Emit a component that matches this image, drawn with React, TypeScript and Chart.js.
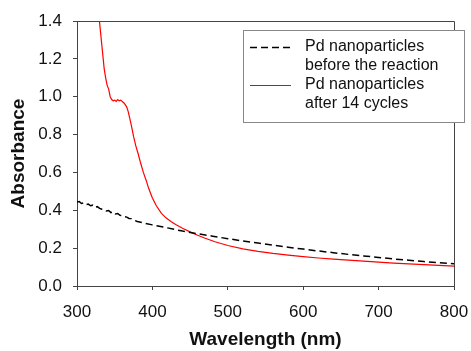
import React, { useEffect, useRef } from "react";
import { Chart, registerables } from "chart.js";

Chart.register(...registerables);

// Series 1: Pd nanoparticles before the reaction (black dashed)
const beforeWavelengths = [300, 303, 306, 309, 312, 315, 318, 321, 324, 327, 330, 333, 336, 339, 342, 345, 348, 351, 354, 357, 360, 363, 366, 369, 372, 375, 380, 390, 400, 420, 440, 460, 480, 500, 520, 540, 560, 580, 600, 620, 640, 660, 680, 700, 720, 740, 760, 780, 800];
const beforeAbsorbance = [0.443, 0.446, 0.436, 0.439, 0.43, 0.433, 0.424, 0.427, 0.416, 0.419, 0.41, 0.406, 0.404, 0.396, 0.399, 0.388, 0.392, 0.381, 0.383, 0.373, 0.372, 0.366, 0.364, 0.357, 0.356, 0.349, 0.341, 0.331, 0.323, 0.307, 0.29, 0.276, 0.263, 0.25, 0.238, 0.227, 0.216, 0.205, 0.195, 0.185, 0.176, 0.167, 0.159, 0.151, 0.143, 0.136, 0.129, 0.123, 0.117];

// Series 2: Pd nanoparticles after 14 cycles (red solid)
const afterWavelengths = [326, 330, 333, 336, 338, 340, 342, 344, 346, 348, 350, 352, 354, 356, 358, 360, 362, 364, 366, 368, 370, 372, 375, 378, 381, 384, 388, 392, 395, 400, 405, 412, 418, 425, 432, 440, 450, 460, 470, 483, 500, 520, 540, 560, 580, 600, 620, 640, 660, 680, 700, 720, 740, 760, 780, 800];
const afterAbsorbance = [1.55, 1.39, 1.27, 1.15, 1.1, 1.06, 1.04, 1.0, 0.985, 0.978, 0.982, 0.975, 0.985, 0.978, 0.982, 0.975, 0.968, 0.958, 0.945, 0.92, 0.885, 0.85, 0.79, 0.74, 0.7, 0.655, 0.6, 0.555, 0.516, 0.465, 0.425, 0.384, 0.36, 0.34, 0.322, 0.305, 0.286, 0.268, 0.252, 0.234, 0.214, 0.196, 0.183, 0.172, 0.163, 0.155, 0.148, 0.142, 0.137, 0.131, 0.126, 0.121, 0.117, 0.113, 0.109, 0.105];

const seriesLabels = [
  ["Pd nanoparticles", "before the reaction"],
  ["Pd nanoparticles", "after 14 cycles"],
];
const xTicks = [300, 400, 500, 600, 700, 800];
const yTicks = [0, 0.2, 0.4, 0.6, 0.8, 1.0, 1.2, 1.4];

const FONT = "'Liberation Sans', Arial, sans-serif";
const AXIS_COLOR = "#444";

const framePlugin = {
  id: "frame",
  afterDraw(chart: any) {
    const { ctx, chartArea } = chart;
    ctx.save();
    ctx.strokeStyle = AXIS_COLOR;
    ctx.lineWidth = 1;
    ctx.beginPath();
    ctx.moveTo(Math.round(chartArea.left) + 0.5, Math.round(chartArea.top) + 0.5);
    ctx.lineTo(Math.round(chartArea.right) + 0.5, Math.round(chartArea.top) + 0.5);
    ctx.lineTo(Math.round(chartArea.right) + 0.5, Math.round(chartArea.bottom) + 0.5);
    ctx.stroke();
    ctx.restore();
  },
};

const legendPlugin = {
  id: "customLegend",
  afterDraw(chart: any) {
    const { ctx } = chart;
    const bx = 243.5, by = 30.5, bw = 221, bh = 92;
    ctx.save();
    ctx.fillStyle = "#fff";
    ctx.fillRect(bx, by, bw, bh);
    ctx.strokeStyle = "#888";
    ctx.lineWidth = 1;
    ctx.strokeRect(bx, by, bw, bh);
    const rows = [47, 85];
    chart.data.datasets.forEach((ds: any, i: number) => {
      const y = rows[i];
      ctx.strokeStyle = ds.borderColor;
      ctx.lineWidth = ds.borderWidth;
      ctx.setLineDash(ds.borderDash || []);
      ctx.beginPath();
      ctx.moveTo(250, y + 0.5);
      ctx.lineTo(291, y + 0.5);
      ctx.stroke();
      ctx.setLineDash([]);
      ctx.fillStyle = "#111";
      ctx.font = `16px ${FONT}`;
      ctx.textBaseline = "middle";
      ctx.textAlign = "left";
      seriesLabels[i].forEach((t, j) => {
        ctx.fillText(t, 305, y + j * 18.5);
      });
    });
    ctx.restore();
  },
};

export default function App() {
  const ref = useRef<HTMLCanvasElement | null>(null);

  useEffect(() => {
    document.body.style.margin = "0";
    const canvas = ref.current!;
    const chart = new Chart(canvas, {
      type: "line",
      data: {
        datasets: [
          {
            label: seriesLabels[0].join(" "),
            data: beforeWavelengths.map((x, i) => ({ x, y: beforeAbsorbance[i] })),
            borderColor: "#000",
            borderWidth: 1.5,
            borderDash: [7, 4],
            pointRadius: 0,
            tension: 0,
            fill: false,
          },
          {
            label: seriesLabels[1].join(" "),
            data: afterWavelengths.map((x, i) => ({ x, y: afterAbsorbance[i] })),
            borderColor: "#ff0000",
            borderWidth: 1.2,
            pointRadius: 0,
            tension: 0,
            fill: false,
          },
        ],
      },
      options: {
        animation: false,
        responsive: false,
        maintainAspectRatio: false,
        layout: { padding: { left: 0, right: 17, top: 21, bottom: 0 } },
        plugins: {
          legend: { display: false },
          tooltip: { enabled: false },
        },
        scales: {
          x: {
            type: "linear",
            min: 300,
            max: 800,
            afterFit: (s: any) => { s.height = 65; s.paddingLeft = 0; s.paddingRight = 0; },
            afterBuildTicks: (s: any) => { s.ticks = xTicks.map((v) => ({ value: v })); },
            ticks: {
              color: "#111",
              font: { family: FONT, size: 17 },
              padding: 12,
              callback: (v: any) => String(v),
            },
            grid: { display: true, drawOnChartArea: false, drawTicks: true, tickLength: 4, color: AXIS_COLOR },
            border: { display: true, color: AXIS_COLOR },
            title: {
              display: true,
              text: "Wavelength (nm)",
              color: "#111",
              font: { family: FONT, size: 19, weight: "bold" },
              padding: { top: 0, bottom: 0 },
            },
          },
          y: {
            type: "linear",
            min: 0,
            max: 1.4,
            afterFit: (s: any) => { s.width = 77; s.paddingTop = 0; s.paddingBottom = 0; },
            afterBuildTicks: (s: any) => { s.ticks = yTicks.map((v) => ({ value: v })); },
            ticks: {
              color: "#111",
              font: { family: FONT, size: 17 },
              padding: 11,
              callback: (v: any) => Number(v).toFixed(1),
            },
            grid: { display: true, drawOnChartArea: false, drawTicks: true, tickLength: 4, color: AXIS_COLOR },
            border: { display: true, color: AXIS_COLOR },
            title: {
              display: true,
              text: "Absorbance",
              color: "#111",
              font: { family: FONT, size: 19, weight: "bold" },
              padding: { top: 7, bottom: 0 },
            },
          },
        },
      },
      plugins: [framePlugin, legendPlugin],
    });
    return () => chart.destroy();
  }, []);

  return (
    <div style={{ width: 471, height: 351 }}>
      <canvas ref={ref} width={471} height={351} style={{ display: "block" }} />
    </div>
  );
}
